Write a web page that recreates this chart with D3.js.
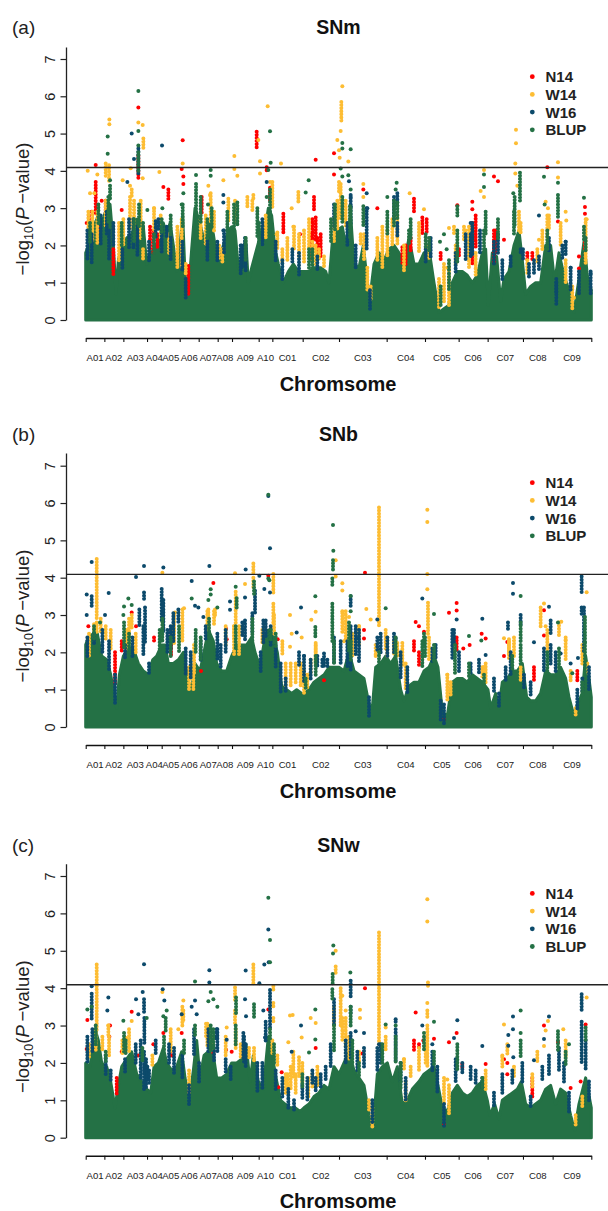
<!DOCTYPE html>
<html><head><meta charset="utf-8">
<script src="https://cdnjs.cloudflare.com/ajax/libs/d3/7.8.5/d3.min.js"></script>
<style>html,body{margin:0;padding:0;background:#fff;overflow:hidden}svg{display:block}text{font-family:"Liberation Sans",Arial,sans-serif}</style>
</head><body><svg id="c" width="608" height="1211"></svg>
<script>
// Genome position is in arbitrary cumulative units.
const chromosomes=["A01","A02","A03","A04","A05","A06","A07","A08","A09","A10","C01","C02","C03","C04","C05","C06","C07","C08","C09"];
const chromBounds=[0,56,113,184,228,282,339,396,439,519,560,651,760,903,1018,1119,1206,1312,1401,1517];
const seriesNames=["N14","W14","W16","BLUP"];
const seriesColors=["#fe0000","#fdbd33","#0c4a6b","#247145"];
const threshold=4.09;
const yTicks=[0,1,2,3,4,5,6,7];

// Upper envelope [position, -log10 P] of the dense, overplotted SNP mass.
const massA=[[0,1.8],[13,2.1],[28,2.6],[38,2.8],[48,2.6],[63,3.0],[73,3.1],[83,2.0],[91,0.7],[98,1.6],[108,2.0],[123,2.2],[138,2.3],[153,2.7],[163,2.7],[173,2.5],[183,1.5],[193,1.8],[208,1.9],[223,2.3],[233,2.6],[243,2.3],[253,2.6],[263,2.0],[273,1.3],[283,2.0],[291,2.8],[298,1.2],[308,0.7],[318,1.9],[328,3.0],[343,2.6],[353,2.2],[363,2.3],[373,2.6],[383,2.3],[393,1.7],[403,1.7],[413,2.0],[428,2.4],[438,2.5],[448,2.4],[458,1.4],[468,1.6],[480,2.2],[488,1.0],[498,1.4],[513,1.9],[528,2.4],[538,2.4],[548,3.0],[558,2.8],[568,1.9],[578,1.5],[593,1.0],[608,1.3],[623,1.5],[638,1.3],[653,1.3],[670,1.3],[685,1.4],[705,1.4],[720,1.3],[730,1.0],[740,2.1],[755,2.4],[770,2.5],[780,2.0],[795,2.8],[805,1.5],[820,1.4],[833,2.0],[845,1.0],[853,0.6],[865,1.5],[880,1.8],[895,1.6],[910,1.9],[925,2.0],[940,1.8],[955,1.5],[970,2.2],[985,1.5],[1000,1.5],[1015,1.8],[1030,1.9],[1045,1.0],[1060,0.2],[1075,0.3],[1090,0.4],[1100,1.0],[1115,1.3],[1130,1.3],[1145,1.2],[1160,1.0],[1175,1.2],[1190,1.8],[1200,1.9],[1208,0.4],[1220,1.8],[1233,1.7],[1245,0.5],[1255,1.1],[1270,1.3],[1285,2.0],[1300,2.4],[1310,1.6],[1320,0.7],[1335,0.9],[1350,1.0],[1365,1.0],[1380,2.0],[1395,2.0],[1407,1.0],[1420,1.8],[1435,1.2],[1450,0.8],[1465,0.2],[1480,1.1],[1495,2.1],[1505,1.2],[1517,0.8]];
const massB=[[0,2.2],[8,2.4],[23,2.5],[35,2.5],[48,1.9],[63,1.8],[75,1.4],[85,0.9],[93,0.5],[101,1.4],[113,1.9],[128,2.1],[143,2.1],[158,1.7],[173,1.5],[188,1.4],[201,1.8],[213,1.9],[228,2.2],[238,2.2],[248,1.7],[263,1.7],[278,1.8],[293,2.0],[308,1.2],[318,1.0],[328,1.7],[343,1.5],[355,2.0],[368,2.6],[383,2.3],[393,1.7],[408,1.5],[423,1.5],[438,1.9],[453,2.2],[468,2.2],[483,2.2],[498,2.4],[508,2.0],[523,1.6],[538,2.4],[548,2.6],[563,2.4],[575,2.0],[588,1.1],[603,1.0],[618,0.9],[633,1.0],[648,0.9],[655,0.9],[670,1.0],[685,1.2],[700,1.3],[715,1.4],[730,1.6],[745,1.6],[760,1.6],[775,1.5],[790,2.0],[805,1.5],[820,1.4],[835,1.3],[850,0.6],[860,0.5],[870,1.6],[885,1.7],[900,1.9],[915,1.7],[930,1.9],[945,1.0],[955,0.7],[970,1.1],[985,1.2],[1000,1.2],[1015,1.5],[1030,1.6],[1045,1.9],[1057,1.6],[1070,0.4],[1085,0.3],[1100,1.2],[1115,1.3],[1130,1.3],[1145,1.2],[1160,1.4],[1175,1.3],[1190,1.2],[1207,1.0],[1215,0.5],[1230,0.9],[1240,0.5],[1250,1.2],[1265,1.3],[1280,1.5],[1295,1.5],[1310,1.7],[1323,0.8],[1335,0.7],[1350,0.7],[1365,0.9],[1380,1.5],[1395,1.4],[1410,1.4],[1425,1.6],[1440,1.3],[1450,0.8],[1465,0.3],[1475,0.6],[1490,0.9],[1500,1.9],[1510,1.3],[1517,0.8]];
const massC=[[0,2.0],[13,1.9],[28,2.9],[38,2.6],[48,2.0],[63,1.9],[75,1.5],[88,0.8],[98,1.4],[108,1.9],[123,2.1],[138,2.3],[153,1.7],[168,1.5],[183,1.3],[195,1.2],[205,1.9],[218,2.0],[233,2.4],[243,2.0],[258,1.8],[273,1.9],[288,2.3],[298,1.6],[311,1.0],[323,1.8],[333,2.6],[343,1.6],[355,2.2],[368,2.3],[383,2.2],[393,1.6],[408,1.6],[423,1.7],[438,2.0],[453,2.0],[468,2.1],[481,2.5],[493,1.5],[503,2.2],[518,1.5],[533,1.3],[548,2.7],[558,2.3],[571,1.6],[585,1.0],[598,0.9],[613,0.8],[628,0.8],[643,0.7],[655,0.8],[670,0.9],[685,1.1],[700,1.2],[715,1.4],[730,1.3],[745,1.9],[760,1.7],[775,2.0],[790,2.3],[805,1.8],[820,1.6],[835,1.4],[850,0.6],[862,0.2],[875,1.7],[890,1.9],[905,2.0],[920,1.5],[935,1.9],[950,0.9],[965,1.0],[980,1.3],[1000,1.5],[1015,1.7],[1030,1.8],[1045,1.9],[1057,1.4],[1070,0.8],[1085,0.7],[1100,1.2],[1115,1.4],[1130,1.2],[1145,1.1],[1160,1.2],[1175,1.4],[1190,1.5],[1205,1.0],[1213,0.6],[1227,0.9],[1240,0.5],[1250,1.0],[1265,1.1],[1280,1.2],[1295,1.3],[1307,1.5],[1320,0.9],[1335,0.8],[1350,0.9],[1365,1.0],[1380,1.3],[1395,1.4],[1410,0.9],[1425,1.3],[1440,1.2],[1455,0.6],[1467,0.2],[1480,0.9],[1500,1.6],[1517,0.8]];

// Separately readable SNPs: [position, -log10 P]. Columns of touching SNPs: [position, top, bottom].
const a_N14_pts=[[30,4.16],[3,2.6],[18,2.9],[48,3.2],[158,5.7],[233,3.57],[291,4.82],[288,4.05],[293,3.85],[293,3.65],[108,2.95],[690,4.3],[745,4.47],[745,3.9],[833,3.5],[875,3.0],[1115,3.08],[1160,3.17],[1160,2.97],[1225,3.85],[1237,3.72],[1255,2.15],[1385,4.1],[1417,2.64],[1480,1.7],[1480,1.38],[1498,3.03],[1498,2.85],[643,2.3]];
const a_N14_cols=[[30,3.7,2.85],[158,4.4,3.75],[203,2.4,1.8],[193,2.5,1.9],[215,2.3,1.9],[248,3.5,3.2],[308,1.45,0.7],[348,3.3,2.85],[513,5.05,4.6],[543,4.1,4.0],[553,3.55,3.2],[593,2.85,2.3],[83,1.9,1.2],[685,3.3,2.95],[690,2.75,2.15],[675,2.3,1.6],[705,2.3,1.7],[950,1.95,1.5],[960,2.0,1.5],[985,3.25,2.85],[1010,2.75,2.3],[1023,2.7,2.3],[1160,2.6,1.45],[1120,1.9,1.7],[1230,2.4,1.8],[1065,1.8,1.6],[1498,2.5,1.9],[1325,1.8,1.6],[1340,1.8,1.6],[10,2.8,2.2],[40,2.6,2.3],[60,3.2,2.8],[680,2.7,1.9],[695,2.2,1.7],[975,2.2,1.8],[1170,2.8,1.9],[1225,2.4,1.5]];
const a_W14_pts=[[6,4.0],[13,3.4],[26,3.4],[35,3.9],[71,5.38],[71,5.25],[111,3.75],[133,3.6],[158,5.3],[171,5.23],[171,3.8],[135,4.07],[221,3.97],[205,3.0],[291,4.2],[368,3.6],[373,3.35],[413,3.75],[446,4.4],[446,4.05],[455,3.87],[518,4.83],[523,4.26],[523,3.93],[546,5.73],[553,3.7],[586,4.2],[618,3.0],[623,2.5],[573,2.3],[770,6.27],[765,5.07],[755,4.83],[760,4.55],[762,4.35],[788,4.25],[833,3.65],[833,3.3],[972,3.4],[1015,2.97],[1090,2.47],[1140,2.4],[1085,1.4],[1185,3.46],[1195,4.02],[1195,3.3],[1291,5.1],[1291,4.74],[1289,4.2],[1289,3.93],[1295,3.6],[1380,3.17],[1387,3.0],[1360,2.15],[1417,4.23],[1417,3.82],[1440,2.9],[1442,2.67],[1465,0.6],[1503,2.7]];
const a_W14_cols=[[60,4.2,3.85],[70,4.15,3.7],[138,3.5,3.3],[173,4.87,4.6],[428,3.25,2.6],[448,3.2,2.6],[503,3.35,3.2],[638,3.43,3.1],[767,5.85,5.35],[760,3.7,3.4],[825,2.3,2.05],[890,2.5,1.4],[1105,2.5,2.3],[1305,2.6,2.3],[1390,2.8,2.4],[8,2.9,2.2],[20,2.9,2.1],[35,2.9,2.0],[60,3.2,2.5],[100,2.6,1.6],[113,2.7,2.0],[133,3.3,2.4],[145,3.2,2.4],[165,3.2,2.2],[172,1.9,1.6],[205,3.0,2.4],[225,2.8,2.2],[250,2.3,1.8],[275,2.5,1.4],[288,2.7,1.4],[300,1.5,1.2],[345,2.7,2.2],[360,2.8,2.0],[375,3.4,2.6],[385,2.9,2.4],[400,2.0,1.6],[410,1.9,1.5],[485,3.3,3.0],[500,3.2,2.9],[540,2.8,2.2],[560,3.7,3.0],[575,2.35,1.9],[590,1.9,1.5],[605,2.2,1.6],[625,2.5,1.9],[640,2.3,1.7],[655,2.4,1.5],[670,2.7,1.9],[680,2.1,1.6],[690,2.0,1.5],[700,1.9,1.6],[715,1.7,1.4],[745,2.7,2.1],[755,3.2,2.4],[765,3.65,2.7],[780,3.2,2.5],[835,2.3,1.6],[845,1.4,0.8],[855,0.9,0.5],[875,2.2,1.6],[905,2.4,1.7],[920,2.7,2.0],[935,2.8,2.0],[955,2.0,1.3],[1000,2.6,1.8],[1030,2.0,1.6],[1060,1.1,0.3],[1075,1.5,0.5],[1090,1.4,0.4],[1110,2.0,1.5],[1135,2.5,2.1],[1150,2.5,1.4],[1170,1.8,1.2],[1300,2.9,2.4],[1325,1.6,1.2],[1355,1.9,1.5],[1370,2.4,1.9],[1385,2.8,2.2],[1425,2.6,2.0],[1440,1.6,1.0],[1460,0.9,0.3],[1500,2.7,1.5]];
const a_W16_pts=[[138,5.0],[145,4.32],[125,3.7],[229,4.68],[413,3.35],[413,3.15],[413,2.4],[543,3.7],[790,3.72],[795,3.3],[795,3.05],[843,3.4],[845,3.0],[1155,2.6],[1360,2.8],[1440,2.1],[1455,1.4],[1515,1.25]];
const a_W16_cols=[[158,4.6,3.9],[63,2.9,2.3],[83,2.6,2.0],[143,2.7,1.9],[218,2.7,2.4],[243,2.5,2.2],[468,2.0,1.4],[478,2.2,1.4],[935,3.4,3.0],[1155,2.3,1.7],[1305,1.9,1.8],[1412,1.0,0.7],[5,2.4,1.6],[18,2.3,1.5],[45,2.8,2.0],[70,2.4,1.6],[110,1.9,1.4],[130,2.7,1.9],[155,2.5,1.7],[190,2.1,1.6],[210,2.65,2.2],[228,2.5,1.8],[255,2.3,1.6],[290,2.1,1.3],[300,1.1,0.6],[365,2.2,1.6],[395,2.1,1.6],[415,2.4,1.8],[465,2.0,1.2],[480,2.0,1.3],[530,2.7,2.0],[570,2.1,1.6],[590,1.6,1.1],[620,1.9,1.5],[640,1.8,1.2],[695,1.7,1.3],[745,3.1,2.5],[785,2.6,2.0],[795,3.35,2.6],[810,2.0,1.4],[843,3.0,1.9],[853,0.8,0.3],[925,3.3,2.7],[935,2.6,2.2],[1020,1.9,1.5],[1035,2.2,1.7],[1110,1.8,1.3],[1140,2.3,1.6],[1160,2.6,1.7],[1183,2.4,1.8],[1225,2.1,1.5],[1237,2.3,1.8],[1250,1.6,1.1],[1275,1.7,1.4],[1312,1.9,1.6],[1330,1.5,1.1],[1345,1.6,1.2],[1360,1.7,1.3],[1390,2.2,1.8],[1412,1.1,0.4],[1430,2.0,1.6],[1440,2.1,1.7],[1455,1.4,0.8],[1480,1.3,0.7],[1515,1.3,0.7]];
const a_BLUP_pts=[[158,6.14],[158,5.07],[158,4.68],[66,4.92],[66,4.46],[73,3.75],[553,5.06],[555,4.22],[548,4.02],[331,3.89],[375,4.02],[375,3.87],[367,3.1],[230,3.0],[185,2.95],[543,3.3],[293,3.4],[288,3.1],[770,4.75],[770,4.6],[795,4.58],[765,4.06],[770,3.85],[788,3.88],[795,3.5],[669,3.75],[660,3.42],[933,3.68],[930,3.5],[905,3.3],[1195,3.9],[1195,3.57],[1283,3.4],[1375,3.84],[1377,3.1],[1417,3.68],[1495,3.28],[1075,2.3],[1063,2.1],[1083,1.9]];
const a_BLUP_cols=[[158,4.5,3.95],[73,3.6,3.2],[553,3.5,2.5],[331,3.65,2.9],[935,3.15,2.7],[833,3.05,2.5],[793,3.05,2.2],[1115,3.05,2.8],[1303,3.95,3.2],[1287,3.3,2.5],[1417,3.35,2.7],[1495,2.5,2.15],[1237,2.7,2.2],[1115,2.4,1.5],[1065,0.9,0.4],[1090,1.25,0.8],[13,2.6,2.1],[38,3.1,2.6],[68,3.3,2.6],[108,2.6,2.0],[145,2.7,2.1],[160,3.1,2.5],[172,2.6,2.0],[205,2.3,1.8],[228,2.7,2.3],[255,2.8,2.3],[291,3.1,2.5],[345,3.3,2.6],[365,2.7,2.2],[378,3.0,2.5],[425,2.9,2.4],[445,3.1,2.4],[455,3.15,2.5],[480,2.2,1.6],[515,3.0,2.2],[520,2.6,2.0],[670,1.9,1.4],[680,1.9,1.4],[736,2.7,2.1],[748,3.1,2.4],[770,3.3,2.6],[795,3.0,2.5],[905,2.9,2.3],[925,3.2,2.5],[970,2.4,2.0],[975,2.7,2.2],[1020,2.3,1.9],[1030,2.2,1.8],[1090,1.6,1.3],[1195,2.4,1.9],[1200,2.9,2.3],[1285,2.9,2.3],[1385,2.4,1.9],[1500,2.2,1.8]];

const b_N14_pts=[[8,2.7],[138,3.07],[151,2.7],[118,2.5],[383,3.86],[421,2.63],[423,2.35],[548,4.05],[576,2.35],[346,1.5],[838,4.13],[835,2.6],[835,2.37],[1090,3.06],[1113,3.32],[1113,3.12],[990,2.81],[1000,2.7],[1015,2.55],[1188,2.5],[1200,2.37],[1375,3.13],[1265,2.28],[1255,1.9],[1375,2.45],[1133,2.1],[1152,2.2],[1075,0.2],[715,1.25]];
const b_N14_cols=[[88,2.0,1.1],[108,2.3,2.0],[205,2.4,2.3],[256,2.6,1.9],[985,2.3,2.05],[1000,2.0,1.6],[1113,2.4,2.05],[1345,1.6,1.2],[1475,1.5,1.25]];
const b_W14_pts=[[448,4.12],[478,3.83],[230,4.13],[268,3.07],[295,3.18],[388,3.0],[613,3.0],[618,2.5],[648,2.4],[613,2.15],[1025,5.82],[1025,5.49],[1025,4.1],[1025,3.69],[750,4.47],[750,4.03],[770,3.85],[770,3.66],[842,3.16],[855,2.88],[677,2.87],[690,3.09],[770,3.1],[790,2.95],[820,2.7],[775,2.3],[1503,3.61],[1375,3.31],[1427,2.82],[1380,2.7],[1440,2.33],[1255,2.38],[1195,1.6],[1085,1.4],[870,1.9]];
const b_W14_cols=[[33,4.5,2.87],[33,2.8,2.5],[450,3.62,2.78],[503,4.38,4.1],[503,4.0,3.7],[563,4.1,3.6],[563,3.3,2.8],[368,3.15,2.78],[388,3.15,3.05],[123,2.6,2.1],[138,3.0,2.6],[323,1.6,1.0],[445,2.7,1.9],[460,2.7,1.9],[600,1.7,1.1],[615,1.7,1.1],[630,1.7,1.2],[645,1.7,1.1],[880,5.88,2.7],[1027,3.33,2.42],[900,2.6,2.1],[935,2.25,1.9],[690,2.25,1.7],[1270,2.3,1.9],[1195,1.6,1.4],[10,2.5,1.9],[25,2.75,2.4],[45,2.9,2.5],[60,2.7,2.3],[75,2.6,2.1],[130,2.9,2.2],[150,2.5,2.0],[265,3.0,2.2],[290,3.15,2.3],[310,1.6,1.0],[325,2.2,1.4],[365,3.1,2.6],[385,3.1,2.7],[420,2.7,2.2],[445,2.7,2.3],[530,2.6,2.2],[565,3.0,2.5],[590,2.3,1.9],[655,1.5,0.9],[665,1.4,1.0],[675,1.8,1.4],[690,2.2,1.7],[770,3.05,2.5],[780,3.1,2.3],[800,2.5,1.9],[820,2.7,2.2],[870,2.2,1.9],[905,2.4,1.9],[925,2.3,1.9],[950,2.25,1.6],[960,1.7,1.0],[1030,2.4,1.8],[1085,1.4,0.7],[1095,1.2,0.8],[1190,1.6,1.3],[1200,1.7,1.2],[1270,2.35,1.8],[1285,2.4,1.9],[1305,1.6,1.2],[1365,3.2,2.7],[1385,2.6,2.0],[1420,2.8,2.4],[1440,2.4,1.8],[1455,1.5,1.2],[1470,0.5,0.3],[1490,2.2,1.7],[1505,1.7,1.4]];
const b_W16_pts=[[18,4.42],[175,4.31],[151,4.02],[233,4.27],[318,3.91],[371,4.31],[480,4.22],[521,4.05],[553,4.79],[548,6.19],[536,3.7],[553,3.6],[3,3.55],[69,3.59],[3,3.0],[58,3.0],[433,3.36],[433,3.14],[478,3.47],[646,3.2],[633,2.53],[328,3.25],[338,3.2],[353,2.95],[1282,3.86],[1282,3.57],[1010,3.44],[1190,2.9],[1113,2.88],[1390,3.22],[1345,2.27],[875,2.88],[1477,1.85],[1425,1.97],[1455,1.7],[1200,1.93],[655,1.9],[812,2.37],[930,2.37]];
const b_W16_cols=[[18,3.5,3.2],[175,3.6,3.4],[178,3.2,2.25],[161,3.15,2.7],[173,2.7,1.9],[228,3.7,2.8],[233,3.4,2.5],[278,3.15,2.8],[263,3.05,2.25],[508,3.65,3.0],[478,2.85,2.35],[533,2.85,2.25],[1488,4.03,3.58],[1488,3.2,3.0],[1395,2.85,2.5],[1305,3.0,2.7],[1267,2.8,2.6],[795,3.5,3.25],[795,2.7,1.5],[1105,2.6,2.25],[715,1.97,1.6],[5,2.4,1.9],[25,2.5,2.2],[50,2.6,2.0],[70,2.3,1.5],[88,1.4,0.6],[118,2.2,1.8],[140,2.4,1.9],[190,1.7,1.4],[245,2.6,2.0],[255,2.7,2.1],[300,2.1,1.4],[315,2.0,1.3],[345,2.3,1.8],[360,2.7,2.3],[395,2.5,1.8],[405,2.2,1.6],[420,2.6,2.0],[470,2.8,2.4],[500,3.05,2.5],[525,2.0,1.5],[540,2.85,2.4],[555,2.7,2.2],[570,2.2,1.6],[585,1.7,0.9],[600,1.3,0.9],[640,2.0,1.6],[655,1.9,1.2],[675,1.8,1.3],[695,1.9,1.6],[710,1.8,1.6],[725,1.8,1.6],[745,2.4,1.7],[765,2.3,1.7],[785,2.3,1.6],[810,2.7,1.9],[820,2.6,1.7],[850,0.8,0.3],[875,2.4,2.0],[885,2.5,2.0],[905,2.4,1.9],[925,2.5,2.0],[945,2.0,1.3],[965,1.6,0.9],[1040,2.1,1.7],[1050,2.2,1.8],[1065,0.7,0.2],[1075,0.6,0.1],[1100,2.6,1.8],[1120,2.0,1.5],[1155,1.7,1.4],[1180,1.8,1.4],[1225,1.3,0.9],[1240,0.9,0.5],[1260,1.6,1.2],[1275,2.0,1.4],[1315,1.4,1.0],[1335,1.2,0.8],[1375,2.1,1.5],[1395,2.2,1.7],[1410,2.0,1.5],[1475,1.0,0.5],[1490,1.3,0.9],[1495,3.2,2.0],[1510,1.6,1.0]];
const b_BLUP_pts=[[548,6.22],[548,3.98],[551,3.93],[128,3.44],[138,3.27],[115,3.23],[113,3.0],[318,3.44],[450,3.76],[375,3.69],[375,3.55],[395,3.2],[368,3.4],[43,2.8],[742,5.41],[743,4.72],[689,3.5],[795,3.51],[795,3.1],[900,3.18],[1045,3.03],[1305,3.51],[1417,2.8],[1150,2.44],[1187,2.32],[1460,1.44]];
const b_BLUP_cols=[[453,3.45,3.15],[505,3.9,3.5],[742,4.47,4.2],[740,3.98,3.8],[740,3.3,2.25],[689,2.68,2.4],[1305,2.8,2.25],[1498,2.95,2.25],[1498,2.25,1.4],[1015,2.5,2.1],[25,2.7,2.3],[115,2.8,2.1],[130,2.5,2.0],[222,2.6,2.1],[230,2.9,2.3],[255,2.4,1.9],[280,2.7,2.0],[330,2.6,2.0],[345,2.4,1.8],[370,2.9,2.4],[450,2.7,2.1],[500,2.9,2.3],[555,2.6,2.3],[570,2.5,2.1],[660,1.3,1.0],[690,1.9,1.4],[745,2.3,1.7],[790,2.8,2.0],[795,2.3,1.8],[880,2.0,1.6],[930,2.4,1.9],[1010,2.3,1.6],[1018,2.4,1.9],[1045,2.2,1.6],[1108,2.2,1.4],[1150,1.7,1.3],[1195,1.4,1.1],[1280,1.9,1.5],[1305,2.2,1.7],[1385,2.0,1.5],[1420,2.1,1.6],[1490,1.2,0.8]];

const c_N14_pts=[[5,3.15],[138,3.37],[73,3.0],[71,2.7],[108,2.3],[118,2.3],[158,2.2],[203,2.5],[255,2.3],[233,2.8],[288,2.8],[258,2.2],[421,2.35],[438,2.3],[383,2.27],[548,3.43],[578,1.35],[588,1.75],[3,2.37],[838,4.0],[990,3.35],[1013,2.6],[830,2.25],[1090,2.55],[1113,2.8],[1045,2.65],[1200,1.97],[1255,2.1],[1265,2.0],[1375,3.0],[1417,2.56],[1500,3.03],[1485,1.5],[1455,1.33],[690,2.4],[1265,1.7],[1075,0.35]];
const c_N14_cols=[[93,1.6,1.15],[985,2.6,2.35],[1000,2.5,2.35],[1130,1.97,1.85],[1340,1.6,1.07]];
const c_W14_pts=[[230,3.9],[138,3.12],[68,3.0],[423,2.95],[278,2.9],[613,3.27],[621,3.28],[648,2.68],[608,2.55],[1025,6.38],[1025,5.78],[1025,3.6],[750,5.0],[770,3.8],[780,3.4],[823,3.42],[823,3.2],[675,3.2],[690,3.07],[1503,3.75],[1375,2.45],[1387,3.12],[1433,2.9],[1380,2.87],[1255,3.03],[1250,2.2],[900,2.95],[955,2.1],[1085,1.56],[123,2.67],[293,3.67]];
const c_W14_cols=[[33,4.63,2.85],[293,3.4,3.15],[361,3.05,2.7],[448,4.02,3.65],[448,3.4,3.0],[503,4.63,4.1],[563,4.05,3.9],[563,3.6,3.5],[563,3.2,3.1],[68,3.0,2.75],[623,2.3,1.6],[605,1.7,1.35],[630,1.7,1.2],[880,5.49,2.5],[1027,4.15,4.0],[1025,3.4,3.2],[1025,3.0,1.9],[750,4.58,4.4],[745,3.5,2.95],[770,3.2,2.6],[900,2.7,2.35],[1440,2.6,2.15],[10,2.5,2.1],[30,2.85,2.3],[50,2.7,2.3],[70,2.7,2.2],[110,2.6,2.2],[130,2.9,2.3],[200,2.2,1.9],[255,2.9,2.3],[290,3.5,3.0],[310,1.8,1.2],[365,3.05,2.4],[380,2.7,2.3],[420,2.7,2.2],[450,2.9,2.4],[465,2.5,2.1],[490,2.4,2.1],[505,2.4,2.0],[560,2.6,2.2],[575,2.2,1.9],[600,1.7,1.2],[615,1.9,1.3],[640,2.15,1.6],[650,2.0,1.5],[668,1.6,1.1],[680,1.7,1.3],[695,1.9,1.4],[765,4.0,3.0],[780,3.2,2.4],[790,2.7,2.1],[820,2.3,2.0],[850,1.0,0.7],[860,0.8,0.3],[955,2.1,1.8],[960,1.5,1.0],[975,1.9,1.6],[1000,2.4,1.8],[1020,2.5,2.0],[1075,1.6,0.9],[1090,1.4,0.6],[1200,1.8,1.3],[1250,2.15,1.9],[1265,2.5,2.2],[1285,1.9,1.6],[1340,1.7,1.3],[1355,2.3,2.0],[1470,0.6,0.3],[1490,1.1,0.8]];
const c_W16_pts=[[548,5.57],[536,4.63],[549,4.69],[175,4.64],[371,4.48],[371,4.15],[480,4.47],[521,4.13],[231,3.97],[18,4.05],[68,3.75],[65,3.4],[151,3.7],[171,3.9],[236,3.67],[158,3.3],[478,3.7],[481,3.25],[318,3.5],[328,3.67],[333,3.3],[288,3.3],[646,3.0],[533,3.4],[538,2.68],[393,2.7],[423,2.62],[618,2.3],[1115,3.14],[1282,3.24],[1282,2.9],[1268,2.75],[1268,2.46],[1283,2.15],[1010,3.0],[810,2.85],[835,2.8],[930,3.1],[1390,3.24],[1375,2.64],[1190,2.45],[1345,2.07],[1040,2.5],[880,2.5],[1105,2.67]];
const c_W16_cols=[[18,3.85,3.15],[175,3.7,3.3],[176,3.2,2.5],[181,2.1,1.35],[553,3.95,2.95],[393,2.9,2.6],[473,2.8,2.1],[795,4.2,3.75],[795,3.5,3.3],[1488,3.84,3.35],[930,3.17,3.1],[5,2.7,2.0],[20,2.9,2.3],[60,2.2,1.7],[75,1.8,1.5],[118,2.1,1.7],[150,2.5,2.0],[165,2.6,1.6],[175,2.3,1.3],[185,1.9,1.5],[190,1.8,1.4],[210,2.6,2.2],[250,2.5,2.0],[265,2.4,1.7],[290,2.2,1.6],[310,1.4,0.9],[325,2.9,2.2],[340,2.0,1.5],[368,2.9,2.3],[385,2.4,2.0],[395,2.9,2.3],[420,2.1,1.7],[435,1.9,1.5],[475,2.7,2.0],[480,2.5,1.9],[515,2.0,1.2],[530,2.0,1.3],[540,3.1,2.6],[570,1.8,1.3],[590,1.6,1.1],[608,1.3,0.8],[625,1.0,0.7],[650,1.4,1.0],[665,1.6,1.0],[680,1.8,1.4],[690,1.6,1.2],[705,1.7,1.3],[720,1.9,1.5],[735,2.5,1.9],[745,3.7,3.0],[780,2.6,2.0],[795,2.8,2.1],[815,2.3,1.8],[835,2.4,1.9],[860,1.0,0.4],[875,2.4,1.8],[885,2.5,2.0],[930,2.9,2.0],[945,2.0,1.5],[960,1.6,1.0],[1040,2.3,1.8],[1055,1.9,1.2],[1075,0.9,0.3],[1110,2.1,1.5],[1130,2.0,1.7],[1155,1.9,1.5],[1170,1.8,1.4],[1190,1.6,1.3],[1225,1.2,0.8],[1250,1.7,1.2],[1280,1.8,1.4],[1310,2.0,1.5],[1335,1.1,0.8],[1370,1.9,1.5],[1390,2.2,1.7],[1420,2.4,1.8],[1435,2.0,1.5],[1450,1.2,0.7],[1488,3.1,2.0],[1500,2.6,1.8],[1510,1.5,1.0]];
const c_BLUP_pts=[[548,6.42],[553,5.29],[553,4.69],[328,4.18],[18,3.5],[5,3.43],[375,3.9],[383,3.7],[395,3.5],[368,3.65],[113,3.13],[183,3.2],[243,3.4],[233,3.25],[743,5.14],[742,4.93],[794,4.42],[689,3.43],[689,2.63],[1305,3.4],[1305,2.8],[1015,2.8],[1045,3.1],[930,3.0],[900,3.03],[670,2.28],[1450,2.5]];
const c_BLUP_cols=[[451,3.75,3.3],[505,3.57,3.2],[328,3.0,2.7],[553,2.9,2.6],[741,4.38,4.1],[740,3.97,3.65],[745,3.0,2.3],[795,3.5,2.95],[1305,2.6,2.15],[1500,2.95,2.6],[1115,2.5,1.8],[1417,2.85,2.3],[1015,2.7,2.3],[30,3.0,2.5],[60,2.3,2.0],[115,2.8,2.3],[120,2.6,2.2],[170,2.4,2.0],[235,2.7,2.3],[240,3.2,2.8],[295,2.6,2.2],[375,3.0,2.3],[383,2.9,2.4],[450,3.0,2.5],[565,2.5,2.0],[650,1.7,1.3],[800,2.6,2.0],[820,2.0,1.6],[890,2.5,2.0],[930,2.7,2.0],[945,2.0,1.3],[1045,2.3,1.9],[1190,1.6,1.3],[1440,2.3,1.9]];

const panels=[
 {tag:"(a)",title:"SNm",top:47,y0:320,y7:59,mass:massA,pts:[a_N14_pts,a_W14_pts,a_W16_pts,a_BLUP_pts],cols:[a_N14_cols,a_W14_cols,a_W16_cols,a_BLUP_cols]},
 {tag:"(b)",title:"SNb",top:453,y0:727,y7:465.7,mass:massB,pts:[b_N14_pts,b_W14_pts,b_W16_pts,b_BLUP_pts],cols:[b_N14_cols,b_W14_cols,b_W16_cols,b_BLUP_cols]},
 {tag:"(c)",title:"SNw",top:863.7,y0:1137.7,y7:876,mass:massC,pts:[c_N14_pts,c_W14_pts,c_W16_pts,c_BLUP_pts],cols:[c_N14_cols,c_W14_cols,c_W16_cols,c_BLUP_cols]}
];

const svg=d3.select("#c");
const x=d3.scaleLinear().domain([0,1517]).range([85.7,591.3]);
const R=2;
panels.forEach(p=>{
  const y=d3.scaleLinear().domain([0,7]).range([p.y0,p.y7]);
  const g=svg.append("g");
  const yTopValue=y.invert(p.top);
  // the overplotted mass goes first so lower-layer SNPs fleck its upper part
  const area=d3.area().x(d=>x(d[0])).y0(y(0)).y1(d=>y(d[1])).curve(d3.curveLinear);
  g.append("path").attr("class","mass").datum(p.mass).attr("d",area).attr("fill",seriesColors[3]).attr("stroke",seriesColors[3]).attr("stroke-width",3).attr("stroke-linejoin","round");
  seriesNames.forEach((name,i)=>{
    const layer=g.append("g").attr("class","series-"+name);
    layer.selectAll("line").data(p.cols[i]).join("line")
      .attr("x1",d=>x(d[0])).attr("x2",d=>x(d[0])).attr("y1",d=>y(d[1])).attr("y2",d=>y(d[2]))
      .attr("stroke",seriesColors[i]).attr("stroke-width",R*2).attr("stroke-linecap","round").attr("stroke-dasharray","0 3.1");
    layer.selectAll("circle").data(p.pts[i]).join("circle")
      .attr("cx",d=>x(d[0])).attr("cy",d=>y(d[1])).attr("r",R).attr("fill",seriesColors[i]);
  });
  g.append("line").attr("x1",66).attr("x2",608).attr("y1",y(threshold)).attr("y2",y(threshold)).attr("stroke","#222").attr("stroke-width",1.4);
  const yAxisScale=d3.scaleLinear().domain([0,yTopValue]).range([p.y0,p.top]);
  const ya=g.append("g").attr("transform","translate(66,0)").call(d3.axisLeft(yAxisScale).tickValues(yTicks).tickSize(5.5).tickSizeOuter(0).tickFormat(d3.format("d")));
  ya.select(".domain").attr("stroke","#222").attr("stroke-width",1.3);
  ya.selectAll(".tick line").attr("stroke","#222").attr("stroke-width",1.2);
  ya.selectAll(".tick text").attr("transform","rotate(-90)").attr("x",0).attr("y",-11).attr("dy",0).attr("text-anchor","middle").attr("font-size",14.5).attr("font-family","Liberation Sans").attr("fill","#222");
  const axisY=p.y0+18;
  const xa=g.append("g").attr("transform",`translate(0,${axisY})`).call(d3.axisBottom(x).tickValues(chromBounds).tickSize(4).tickSizeOuter(0).tickFormat(""));
  xa.select(".domain").attr("stroke","#111").attr("stroke-width",1.4);
  xa.selectAll(".tick line").attr("stroke","#111").attr("stroke-width",1.1);
  g.append("g").selectAll("text").data(chromosomes).join("text")
    .attr("x",(d,i)=>x((chromBounds[i]+chromBounds[i+1])/2)).attr("y",axisY+23)
    .attr("text-anchor","middle").attr("font-size",9.6).attr("fill","#222").text(d=>d);
  g.append("text").attr("x",12).attr("y",p.y0-286).attr("font-size",19).attr("fill","#222").text(p.tag);
  g.append("text").attr("x",338.5).attr("y",p.y0-286).attr("text-anchor","middle").attr("font-size",19.5).attr("font-weight","bold").attr("fill","#111").text(p.title);
  g.append("text").attr("x",338).attr("y",axisY+52.5).attr("text-anchor","middle").attr("font-size",20).attr("font-weight","bold").attr("fill","#111").text("Chromsome");
  const yl=g.append("text").attr("transform",`translate(29,${p.y0-111}) rotate(-90)`).attr("text-anchor","middle").attr("font-size",18.5).attr("fill","#222");
  yl.append("tspan").text("\u2212log");
  yl.append("tspan").attr("font-size",12.5).attr("dy",4).text("10");
  yl.append("tspan").attr("dy",-4).text("(");
  yl.append("tspan").attr("font-style","italic").text("P");
  yl.append("tspan").text("\u2009\u2212value)");
  const ly=p.top+29.7;
  const lg=g.append("g");
  seriesNames.forEach((n,i)=>{
    lg.append("circle").attr("cx",532.3).attr("cy",ly+i*17.7).attr("r",2.4).attr("fill",seriesColors[i]);
    lg.append("text").attr("x",545.5).attr("y",ly+i*17.7+5.5).attr("font-size",15).attr("font-weight","bold").attr("fill","#222").text(n);
  });
});
</script></body></html>
